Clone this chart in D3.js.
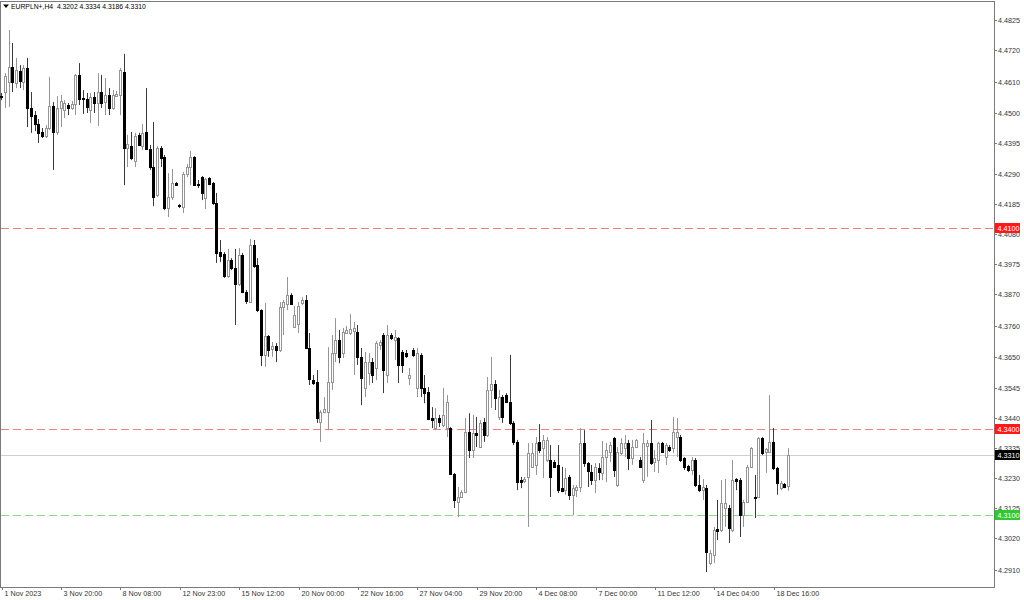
<!DOCTYPE html>
<html><head><meta charset="utf-8">
<script src="https://cdn.jsdelivr.net/npm/d3@7"></script>
<style>html,body{margin:0;padding:0;background:#fff;}svg{display:block;}</style>
</head><body>
<svg id="chart" width="1024" height="600"></svg>
<script>
const symbolTitle = "EURPLN+,H4";
const openP = [4.4560,4.4574,4.4609,4.4661,4.4606,4.4647,4.4609,4.4658,4.4519,4.4494,4.4463,4.4435,4.4421,4.4449,4.4526,4.4435,4.4519,4.4512,4.4529,4.4519,4.4533,4.4634,4.4553,4.4550,4.4512,4.4557,4.4536,4.4574,4.4539,4.4564,4.4519,4.4560,4.4564,4.4644,4.4379,4.4386,4.4334,4.4425,4.4386,4.4435,4.4376,4.4313,4.4216,4.4379,4.4348,4.4170,4.4209,4.4257,4.4181,4.4174,4.4289,4.4313,4.4348,4.4254,4.4278,4.4205,4.4275,4.4257,4.4188,4.4017,4.4010,4.3934,4.3989,4.3962,4.3906,4.4007,4.3878,4.3843,4.4042,4.3972,4.3815,4.3659,4.3725,4.3679,4.3690,4.3676,4.3826,4.3836,4.3867,4.3756,4.3767,4.3840,4.3850,4.3683,4.3571,4.3564,4.3425,4.3460,4.3460,4.3564,4.3665,4.3711,4.3665,4.3735,4.3735,4.3742,4.3739,4.3652,4.3544,4.3596,4.3634,4.3613,4.3693,4.3728,4.3589,4.3728,4.3711,4.3718,4.3669,4.3665,4.3578,4.3676,4.3544,4.3659,4.3544,4.3530,4.3439,4.3404,4.3439,4.3415,4.3404,4.3404,4.3244,4.3147,4.3164,4.3181,4.3390,4.3328,4.3387,4.3338,4.3425,4.3380,4.3537,4.3558,4.3443,4.3512,4.3519,4.3495,4.3422,4.3356,4.3223,4.3220,4.3234,4.3269,4.3276,4.3356,4.3335,4.3293,4.3293,4.3286,4.3276,4.3195,4.3188,4.3234,4.3172,4.3188,4.3199,4.3352,4.3282,4.3251,4.3223,4.3265,4.3248,4.3303,4.3321,4.3369,4.3206,4.3317,4.3335,4.3352,4.3300,4.3338,4.3293,4.3223,4.3342,4.3352,4.3286,4.3293,4.3352,4.3303,4.3338,4.3335,4.3373,4.3373,4.3300,4.3272,4.3258,4.3293,4.3206,4.3188,4.3195,4.2934,4.2962,4.3053,4.3049,4.3126,4.3126,4.3049,4.3227,4.3223,4.3101,4.3147,4.3269,4.3164,4.3164,4.3369,4.3321,4.3321,4.3356,4.3265,4.3195,4.3209,4.3202];
const highP = [4.4571,4.4640,4.4790,4.4745,4.4693,4.4668,4.4668,4.4693,4.4574,4.4508,4.4480,4.4449,4.4459,4.4627,4.4539,4.4560,4.4564,4.4546,4.4536,4.4543,4.4637,4.4675,4.4581,4.4571,4.4571,4.4574,4.4640,4.4634,4.4623,4.4588,4.4581,4.4578,4.4658,4.4707,4.4425,4.4435,4.4432,4.4432,4.4463,4.4588,4.4390,4.4470,4.4386,4.4386,4.4355,4.4292,4.4306,4.4261,4.4184,4.4296,4.4324,4.4369,4.4351,4.4268,4.4282,4.4275,4.4278,4.4261,4.4223,4.4059,4.4017,4.4028,4.3996,4.4028,4.4031,4.4014,4.3885,4.4062,4.4059,4.3996,4.3818,4.3840,4.3728,4.3704,4.3700,4.3843,4.3850,4.3930,4.3874,4.3829,4.3843,4.3860,4.3867,4.3735,4.3589,4.3606,4.3467,4.3512,4.3686,4.3728,4.3787,4.3746,4.3753,4.3760,4.3801,4.3773,4.3763,4.3683,4.3669,4.3665,4.3648,4.3707,4.3711,4.3735,4.3763,4.3735,4.3746,4.3721,4.3676,4.3676,4.3613,4.3683,4.3683,4.3665,4.3589,4.3547,4.3477,4.3474,4.3450,4.3544,4.3519,4.3408,4.3248,4.3199,4.3188,4.3439,4.3456,4.3450,4.3443,4.3432,4.3439,4.3582,4.3652,4.3571,4.3537,4.3519,4.3526,4.3659,4.3429,4.3363,4.3234,4.3234,4.3352,4.3352,4.3373,4.3418,4.3380,4.3373,4.3345,4.3293,4.3345,4.3269,4.3265,4.3241,4.3206,4.3206,4.3404,4.3397,4.3286,4.3276,4.3282,4.3282,4.3359,4.3352,4.3356,4.3373,4.3338,4.3369,4.3380,4.3363,4.3363,4.3366,4.3303,4.3387,4.3363,4.3432,4.3328,4.3356,4.3356,4.3352,4.3345,4.3443,4.3439,4.3380,4.3303,4.3276,4.3303,4.3300,4.3241,4.3227,4.3206,4.2980,4.3060,4.3154,4.3223,4.3227,4.3136,4.3293,4.3230,4.3230,4.3154,4.3276,4.3338,4.3241,4.3373,4.3373,4.3335,4.3519,4.3404,4.3269,4.3220,4.3213,4.3334];
const lowP = [4.4546,4.4519,4.4522,4.4574,4.4588,4.4588,4.4581,4.4452,4.4432,4.4438,4.4397,4.4414,4.4414,4.4442,4.4303,4.4425,4.4452,4.4484,4.4494,4.4512,4.4494,4.4529,4.4498,4.4501,4.4466,4.4501,4.4456,4.4519,4.4494,4.4494,4.4512,4.4557,4.4494,4.4250,4.4313,4.4337,4.4313,4.4386,4.4372,4.4372,4.4303,4.4177,4.4209,4.4313,4.4163,4.4139,4.4198,4.4247,4.4170,4.4153,4.4278,4.4250,4.4247,4.4240,4.4198,4.4167,4.4250,4.4181,4.3979,4.3982,4.3927,4.3927,4.3954,4.3763,4.3899,4.3874,4.3836,4.3840,4.3962,4.3808,4.3620,4.3617,4.3652,4.3652,4.3634,4.3669,4.3728,4.3815,4.3833,4.3753,4.3735,4.3833,4.3679,4.3554,4.3554,4.3422,4.3356,4.3456,4.3397,4.3537,4.3634,4.3630,4.3648,4.3732,4.3728,4.3589,4.3624,4.3484,4.3512,4.3554,4.3561,4.3571,4.3676,4.3526,4.3561,4.3711,4.3641,4.3561,4.3596,4.3648,4.3554,4.3652,4.3512,4.3512,4.3491,4.3432,4.3404,4.3397,4.3408,4.3408,4.3373,4.3241,4.3126,4.3094,4.3161,4.3178,4.3300,4.3300,4.3338,4.3335,4.3356,4.3373,4.3474,4.3467,4.3432,4.3422,4.3491,4.3415,4.3345,4.3188,4.3195,4.3213,4.3060,4.3265,4.3241,4.3317,4.3230,4.3286,4.3164,4.3265,4.3178,4.3181,4.3172,4.3154,4.3101,4.3164,4.3181,4.3269,4.3199,4.3206,4.3178,4.3223,4.3223,4.3216,4.3286,4.3234,4.3199,4.3310,4.3303,4.3258,4.3276,4.3335,4.3265,4.3213,4.3234,4.3276,4.3251,4.3248,4.3317,4.3276,4.3321,4.3317,4.3303,4.3286,4.3258,4.3251,4.3241,4.3199,4.3181,4.3154,4.2903,4.2927,4.2934,4.3014,4.3042,4.3060,4.3004,4.3042,4.3188,4.3025,4.3060,4.3143,4.3265,4.3091,4.3161,4.3310,4.3248,4.3317,4.3258,4.3172,4.3188,4.3195,4.3186];
const closeP = [4.4557,4.4630,4.4661,4.4609,4.4651,4.4613,4.4658,4.4519,4.4491,4.4463,4.4432,4.4421,4.4449,4.4526,4.4435,4.4519,4.4543,4.4536,4.4519,4.4533,4.4634,4.4550,4.4550,4.4522,4.4557,4.4536,4.4574,4.4536,4.4564,4.4519,4.4564,4.4567,4.4651,4.4379,4.4393,4.4344,4.4421,4.4390,4.4432,4.4376,4.4313,4.4209,4.4379,4.4344,4.4170,4.4209,4.4257,4.4250,4.4177,4.4289,4.4313,4.4348,4.4250,4.4250,4.4223,4.4271,4.4254,4.4188,4.4014,4.4003,4.3934,4.3989,4.3962,4.3906,4.4007,4.3878,4.3847,4.4042,4.3968,4.3815,4.3659,4.3725,4.3676,4.3690,4.3676,4.3826,4.3843,4.3867,4.3836,4.3798,4.3829,4.3850,4.3683,4.3575,4.3561,4.3439,4.3460,4.3470,4.3564,4.3665,4.3711,4.3652,4.3739,4.3746,4.3749,4.3753,4.3652,4.3578,4.3634,4.3634,4.3589,4.3700,4.3704,4.3606,4.3728,4.3718,4.3721,4.3624,4.3624,4.3655,4.3589,4.3659,4.3665,4.3544,4.3526,4.3436,4.3432,4.3439,4.3425,4.3450,4.3495,4.3244,4.3154,4.3164,4.3181,4.3390,4.3328,4.3387,4.3380,4.3422,4.3380,4.3537,4.3558,4.3509,4.3512,4.3443,4.3495,4.3422,4.3356,4.3216,4.3216,4.3227,4.3317,4.3317,4.3352,4.3328,4.3363,4.3363,4.3234,4.3269,4.3188,4.3185,4.3230,4.3172,4.3195,4.3199,4.3352,4.3282,4.3255,4.3223,4.3269,4.3251,4.3303,4.3328,4.3345,4.3258,4.3321,4.3352,4.3352,4.3300,4.3338,4.3363,4.3269,4.3352,4.3352,4.3282,4.3300,4.3352,4.3321,4.3345,4.3328,4.3390,4.3390,4.3293,4.3269,4.3258,4.3293,4.3206,4.3188,4.3199,4.2973,4.2969,4.3049,4.3046,4.3143,4.3143,4.3056,4.3223,4.3220,4.3101,4.3147,4.3269,4.3335,4.3161,4.3369,4.3317,4.3331,4.3356,4.3265,4.3213,4.3213,4.3199,4.3310];
const timeLabels = ["1 Nov 2023","3 Nov 20:00","8 Nov 08:00","12 Nov 23:00","15 Nov 12:00","20 Nov 00:00","22 Nov 16:00","27 Nov 04:00","29 Nov 20:00","4 Dec 08:00","7 Dec 00:00","11 Dec 12:00","14 Dec 04:00","18 Dec 16:00"];
const timeLabelBars = [0,16,32,48,64,80,96,112,128,144,160,176,192,208];
const priceTicks = ["4.4825","4.4720","4.4610","4.4500","4.4395","4.4290","4.4185","4.4080","4.3975","4.3870","4.3760","4.3650","4.3545","4.3440","4.3335","4.3230","4.3125","4.3020","4.2910"];
const levelPrices = [4.4100, 4.3400, 4.3100];
const levelKinds = ["red", "red", "green"];

const svg = d3.select("#chart");
const n = closeP.length;
const plotRight = 994, plotBottom = 587;
const x = d3.scaleLinear().domain([0, n - 1]).range([1.7, 788.5]);
const y = d3.scaleLinear().domain([4.2910, 4.4825]).range([570, 20]);
const FONT = "'Liberation Sans', Arial, sans-serif";

// frame
svg.append("rect").attr("x", 0.5).attr("y", 1.5).attr("width", plotRight).attr("height", plotBottom - 1)
  .attr("fill", "#fff").attr("stroke", "#7a7a7a").attr("stroke-width", 1);

// level lines
const lvlColor = {red: "#f08080", green: "#8ad88a"};
const boxColor = {red: "#ff1a1a", green: "#2fc92f"};
levelPrices.forEach((p, i) => {
  const yy = Math.round(y(p)) + 0.5;
  svg.append("line").attr("x1", 1).attr("x2", plotRight).attr("y1", yy).attr("y2", yy)
    .attr("stroke", lvlColor[levelKinds[i]]).attr("stroke-width", 1).attr("stroke-dasharray", "8,4");
});
const bid = closeP[n - 1];
const bidY = Math.round(y(bid)) + 0.5;
svg.append("line").attr("x1", 1).attr("x2", plotRight).attr("y1", bidY).attr("y2", bidY)
  .attr("stroke", "#d0d0d0").attr("stroke-width", 1);

// candles
const idx = d3.range(n);
const g = svg.append("g");
idx.forEach(i => {
  const cx = Math.round(x(i) - 0.5) + 0.5;
  const bull = closeP[i] >= openP[i];
  g.append("line").attr("x1", cx).attr("x2", cx)
    .attr("y1", y(highP[i])).attr("y2", y(lowP[i]))
    .attr("stroke", bull ? "#959595" : "#3a3a3a").attr("stroke-width", 1);
  const top = Math.round(y(Math.max(openP[i], closeP[i])));
  const bot = Math.round(y(Math.min(openP[i], closeP[i])));
  g.append("rect").attr("x", cx - 1).attr("width", 2)
    .attr("y", top + 0.5).attr("height", Math.max(bot - top, 0.01))
    .attr("fill", bull ? "#ffffff" : "#000000")
    .attr("stroke", bull ? "#959595" : "#000000").attr("stroke-width", 1);
});

// right price axis
const ax = svg.append("g");
priceTicks.forEach(t => {
  const yy = Math.round(y(+t)) + 0.5;
  ax.append("line").attr("x1", plotRight).attr("x2", plotRight + 3).attr("y1", yy).attr("y2", yy).attr("stroke", "#7a7a7a");
  ax.append("text").attr("x", plotRight + 4).attr("y", yy).attr("dy", "0.35em")
    .attr("font-family", FONT).attr("font-size", 7.2).attr("fill", "#333").text(t);
});
function priceBox(p, fill) {
  const yy = Math.round(y(p));
  ax.append("rect").attr("x", plotRight + 1).attr("y", yy - 5).attr("width", 25).attr("height", 10).attr("fill", fill);
  ax.append("text").attr("x", plotRight + 3.5).attr("y", yy + 0.5).attr("dy", "0.35em")
    .attr("font-family", FONT).attr("font-size", 7.2).attr("fill", "#fff").text(p.toFixed(4));
}
levelPrices.forEach((p, i) => priceBox(p, boxColor[levelKinds[i]]));
priceBox(bid, "#000");

// bottom time axis
timeLabelBars.forEach((b, i) => {
  const xx = Math.round(x(b)) + 0.5;
  svg.append("line").attr("x1", xx).attr("x2", xx).attr("y1", plotBottom).attr("y2", plotBottom + 3).attr("stroke", "#7a7a7a");
  svg.append("text").attr("x", xx + 2).attr("y", 596)
    .attr("font-family", FONT).attr("font-size", 7.2).attr("fill", "#333").text(timeLabels[i]);
});

// header
svg.append("path").attr("d", "M3,4.5 L9,4.5 L6,8 Z").attr("fill", "#000");
svg.append("text").attr("x", 11).attr("y", 9)
  .attr("font-family", FONT).attr("font-size", 6.8).attr("fill", "#000")
  .attr("xml:space", "preserve")
  .text(symbolTitle + "  " + [openP[n-1], highP[n-1], lowP[n-1], closeP[n-1]].map(v => v.toFixed(4)).join(" "));
</script>
</body></html>
